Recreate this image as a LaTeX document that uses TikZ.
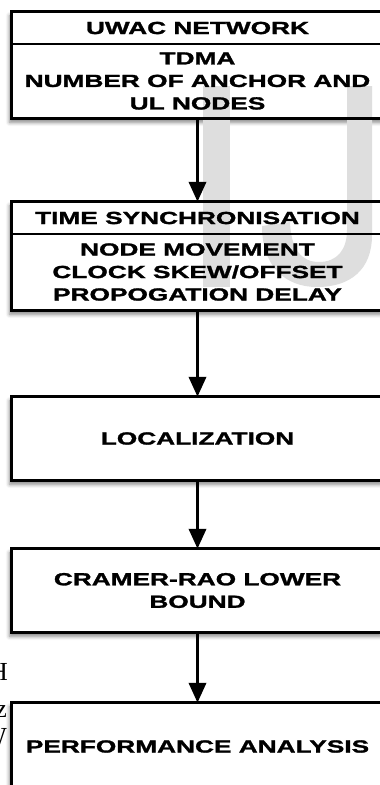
\documentclass[tikz,border=0pt]{standalone}
\usepackage{fontspec}
\newfontfamily\boxfont{Liberation Sans}[FakeStretch=1.5, BoldFeatures={FakeBold=1.6}]
\newfontfamily\serifbits{Liberation Serif}
\usetikzlibrary{arrows.meta,shadows.blur,backgrounds}

\begin{document}
\begin{tikzpicture}[x=1pt,y=-1pt,
  txt/.style={font=\boxfont\bfseries\fontsize{17.5}{22.5}\selectfont,
    align=center, inner sep=0pt, minimum width=371pt},
  frame/.style={draw=black, line width=2.8pt},
  divider/.style={draw=black, line width=2pt},
  card/.style={fill=white, blur shadow={shadow xshift=-2pt, shadow yshift=-4pt,
    shadow blur radius=4pt, shadow opacity=50}},
  flow/.style={line width=3.6pt, -{Triangle[width=17pt,length=20pt]}},
  wm/.style={fill=black!13},
  bits/.style={font=\serifbits\fontsize{26}{30}\selectfont, inner sep=0pt, anchor=base east}]
\clip (0,0) rectangle (380,785);
\useasboundingbox (0,0) rectangle (380,785);

% stray characters at the left margin
\node[bits] (fragH) at (8,680) {H};
\node[bits] (fragZ) at (7,717) {z};
\node[bits] (fragW) at (7,745) {W};

% box contents
\node[txt, minimum height=32pt] (t1) at (197.5,28) {UWAC NETWORK};
\node[txt, minimum height=74pt] (b1) at (197.5,81) {TDMA\\NUMBER OF ANCHOR AND\\UL NODES};
\node[txt, minimum height=32pt] (t2) at (197.5,218) {TIME SYNCHRONISATION};
\node[txt, minimum height=76pt] (b2) at (197.5,272) {NODE MOVEMENT\\CLOCK SKEW/OFFSET\\PROPOGATION DELAY};
\node[txt, minimum height=83pt] (b3) at (197.5,438.5) {LOCALIZATION};
\node[txt, minimum height=83pt] (b4) at (197.5,590.5) {CRAMER-RAO LOWER\\BOUND};
\node[txt, minimum height=87pt] (b5) at (197.5,746.5) {PERFORMANCE ANALYSIS};

% white cards with soft shadows, and the watermark above them
\begin{scope}[on background layer]
  \fill[card] (t1.north west) rectangle (b1.south east);
  \fill[card] (t2.north west) rectangle (b2.south east);
  \fill[card] (b3.north west) rectangle (b3.south east);
  \fill[card] (b4.north west) rectangle (b4.south east);
  \fill[card] (b5.north west) rectangle (b5.south east);
  \fill[wm] (203,86) rectangle (230,287);
  \fill[wm] (347,86) -- (372,86) -- (372,235)
    .. controls (372,270) and (350,287) .. (317,287)
    .. controls (285,287) and (262,266) .. (262,226)
    -- (290,222)
    .. controls (291,250) and (302,262) .. (319,262)
    .. controls (337,262) and (347,250) .. (347,230) -- cycle;
\end{scope}

% outlines
\draw[frame] (t1.north west) rectangle (b1.south east);
\draw[divider] (t1.south west) -- (t1.south east);
\draw[frame] (t2.north west) rectangle (b2.south east);
\draw[divider] (t2.south west) -- (t2.south east);
\draw[frame] (b3.north west) rectangle (b3.south east);
\draw[frame] (b4.north west) rectangle (b4.south east);
\draw[frame] (b5.north west) rectangle (b5.south east);

% connectors
\draw[flow] (b1.south) -- (t2.north);
\draw[flow] (b2.south) -- (b3.north);
\draw[flow] (b3.south) -- (b4.north);
\draw[flow] (b4.south) -- (b5.north);
\end{tikzpicture}
\end{document}
